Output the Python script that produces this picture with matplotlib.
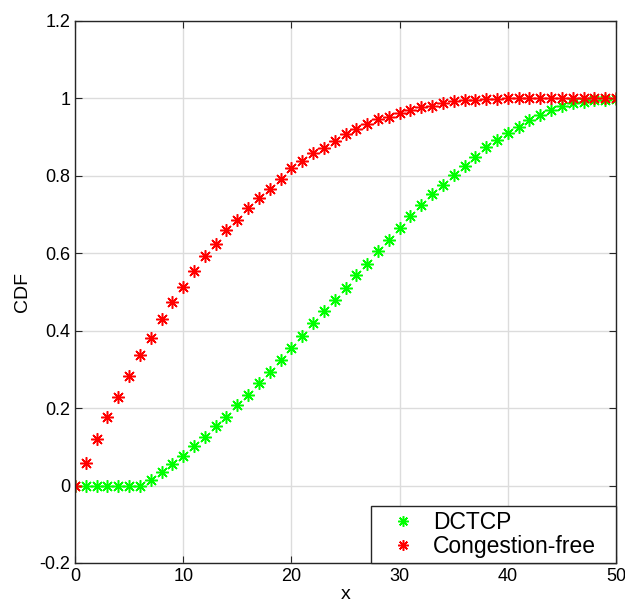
import matplotlib.pyplot as plt
import numpy as np

plt.rcParams['font.family'] = ['Liberation Sans', 'DejaVu Sans']

x = list(range(51))

dctcp = [0, 0, 0, 0, 0, 0, 0, 0.015, 0.034, 0.056, 0.076, 0.101, 0.125, 0.153,
         0.178, 0.207, 0.235, 0.265, 0.293, 0.325, 0.355, 0.386, 0.419, 0.452,
         0.480, 0.511, 0.545, 0.573, 0.606, 0.634, 0.666, 0.696, 0.724, 0.753,
         0.776, 0.802, 0.825, 0.849, 0.875, 0.892, 0.911, 0.927, 0.944, 0.957,
         0.970, 0.980, 0.987, 0.991, 0.995, 0.997, 0.999]

congestion_free = [0, 0.057, 0.119, 0.176, 0.230, 0.284, 0.336, 0.382, 0.429,
                   0.473, 0.512, 0.553, 0.592, 0.625, 0.659, 0.687, 0.716,
                   0.742, 0.767, 0.793, 0.819, 0.838, 0.858, 0.873, 0.891,
                   0.908, 0.922, 0.935, 0.946, 0.953, 0.961, 0.970, 0.978,
                   0.981, 0.988, 0.993, 0.995, 0.997, 0.998, 0.999, 1.0,
                   1.0, 1.0, 1.0, 1.0, 1.0, 1.0, 1.0, 1.0, 1.0, 1.0]

fig = plt.figure(figsize=(6.25, 6.07), dpi=100)
ax = fig.add_axes([0.12, 0.0725, 0.8656, 0.893])

star = (8, 2, 0)
ax.plot(x, dctcp, linestyle='none', marker=star, markersize=9,
        markeredgewidth=1.1, color='#00ff00', label='DCTCP')
ax.plot(x, congestion_free, linestyle='none', marker=star, markersize=9,
        markeredgewidth=1.1, color='#ff0000', label='Congestion-free')

ax.set_xlim(0, 50)
ax.set_ylim(-0.2, 1.2)
ax.set_xticks([0, 10, 20, 30, 40, 50])
ax.set_yticks([-0.2, 0, 0.2, 0.4, 0.6, 0.8, 1, 1.2])
ax.set_yticklabels(['-0.2', '0', '0.2', '0.4', '0.6', '0.8', '1', '1.2'])
ax.grid(True, color='#dcdcdc', linewidth=1)
ax.set_axisbelow(True)
ax.tick_params(direction='in', top=True, right=True, labelsize=13,
               length=5, color='#262626')
for s in ax.spines.values():
    s.set_color('#262626')
    s.set_linewidth(1)

ax.set_xlabel('x', fontsize=14, labelpad=1)
ax.set_ylabel('CDF', fontsize=14, labelpad=6)

leg = ax.legend(loc='lower left', bbox_to_anchor=(0.547, 0, 0.453, 0.1),
                mode='expand', fontsize=16.5, fancybox=False,
                edgecolor='#262626', framealpha=1, borderaxespad=0,
                handlelength=2.4, handletextpad=0.1, borderpad=0.2,
                labelspacing=0.08, markerscale=0.85)
leg.get_frame().set_linewidth(1)

fig.savefig('out.png', dpi=100)
